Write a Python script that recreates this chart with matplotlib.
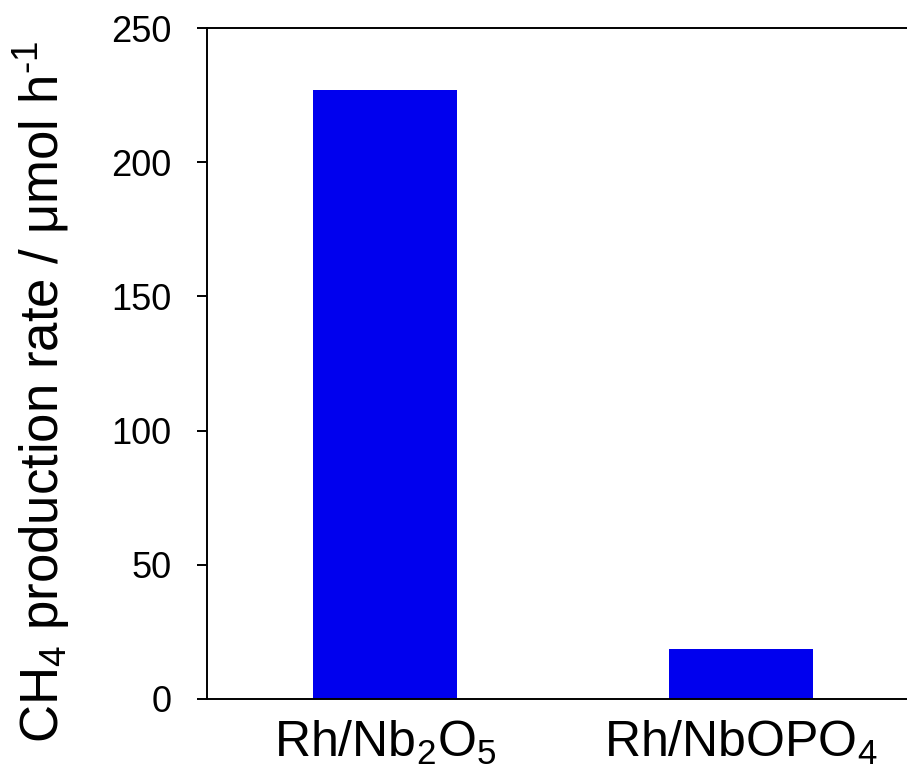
import matplotlib
matplotlib.use("Agg")
import matplotlib.pyplot as plt
import numpy as np

catalysts = ["Rh/Nb$_2$O$_5$", "Rh/NbOPO$_4$"]
ch4_rate = [227, 18.5]

plt.rcParams['font.family'] = ['Liberation Sans', 'DejaVu Sans']
plt.rcParams['mathtext.fontset'] = 'custom'
plt.rcParams['mathtext.rm'] = 'Liberation Sans'
plt.rcParams['mathtext.it'] = 'Liberation Sans:italic'

fig = plt.figure(figsize=(9.07, 7.83), dpi=100)
ax = fig.add_axes([0.2282, 0.1073, 0.785, 0.8569])

x = np.arange(len(catalysts))
ax.bar(x, ch4_rate, width=0.406, color='#0000ee')

ax.set_xlim(-0.5, 1.5)
ax.set_ylim(0, 250)
ax.set_yticks([0, 50, 100, 150, 200, 250])
ax.set_xticks(x)
ax.set_xticklabels(catalysts, fontsize=36)
ax.tick_params(axis='x', length=0, pad=14)
ax.tick_params(axis='y', direction='out', length=7.5, width=1.4, labelsize=26, pad=18)

for side in ['left', 'bottom', 'top']:
    ax.spines[side].set_linewidth(1.4)
ax.spines['right'].set_visible(False)

ax.set_ylabel(r"CH$_4$ production rate / μmol h$^{\text{-}1}$", fontsize=38, labelpad=28)
ax.yaxis.label.set_y(0.458)

plt.savefig("out.png", dpi=100)
